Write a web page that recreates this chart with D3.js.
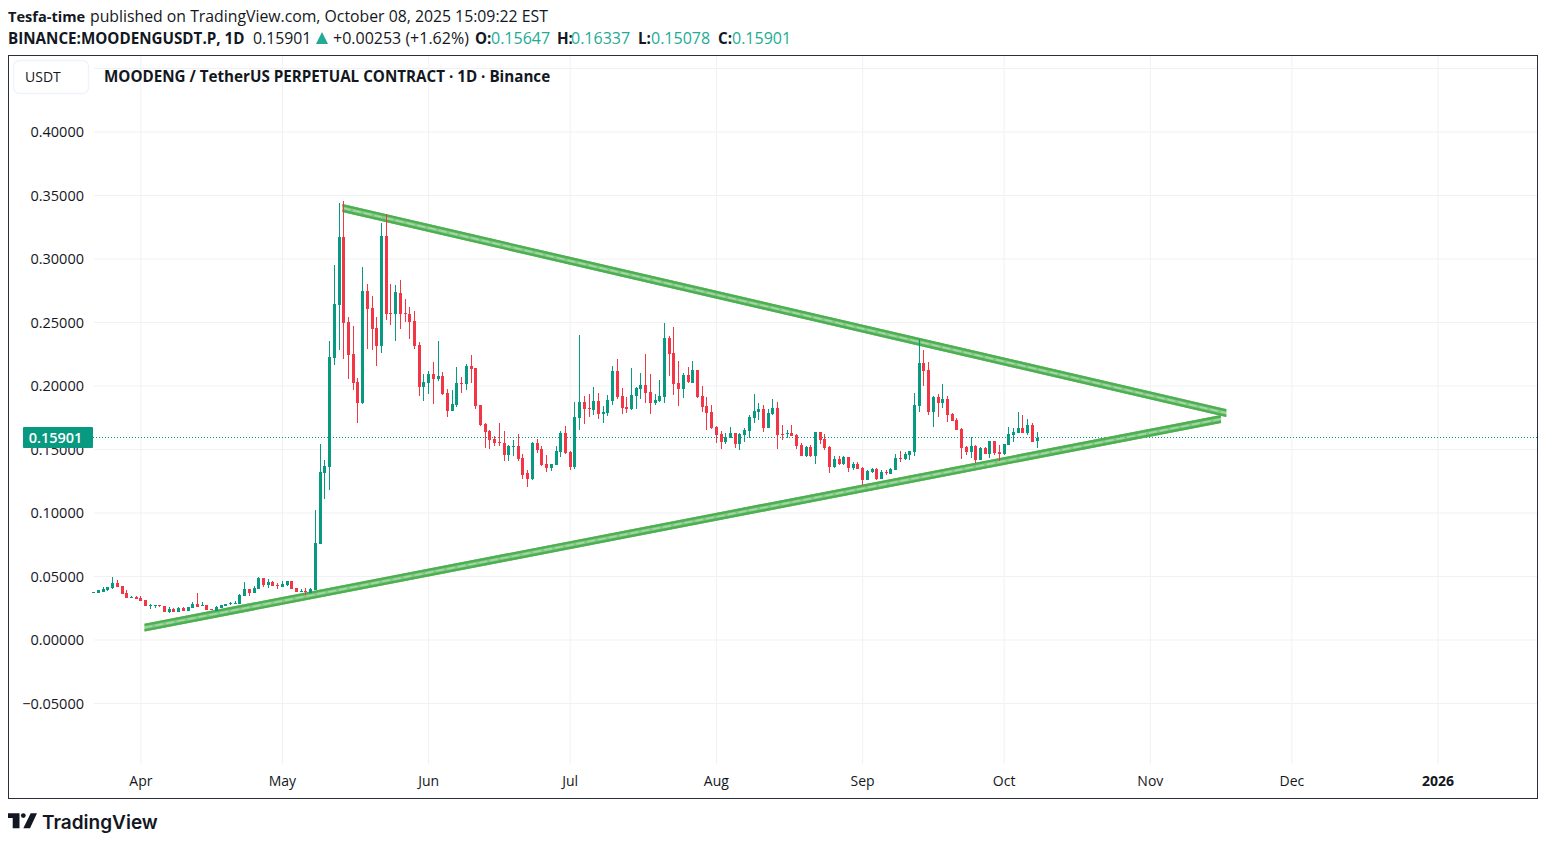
<!DOCTYPE html>
<html>
<head>
<meta charset="utf-8">
<title>MOODENGUSDT.P</title>
<script src="https://cdn.jsdelivr.net/npm/d3@7"></script>
<style>
  html, body { margin: 0; padding: 0; background: #fff; }
  svg { display: block; }
  text { font-family: "Open Sans", "Noto Sans", sans-serif; fill: #131722; }
</style>
</head>
<body>
<script>
'use strict';

var firstDay = "2025-03-22";

var opens = [0.0366,0.0366,0.0377,0.0387,0.0405,0.0445,0.0421,0.0366,0.0327,0.0335,
  0.0327,0.0311,0.0264,0.0264,0.0272,0.0264,0.0217,0.0240,0.0217,0.0248,
  0.0224,0.0248,0.0280,0.0264,0.0272,0.0238,0.0224,0.0248,0.0264,0.0280,
  0.0280,0.0280,0.0343,0.0398,0.0366,0.0398,0.0484,0.0429,0.0453,0.0429,
  0.0413,0.0429,0.0461,0.0405,0.0374,0.0382,0.0366,0.0390,0.0752,0.1311,
  0.1358,0.2216,0.2634,0.3170,0.2500,0.2248,0.2028,0.1862,0.2744,0.2610,
  0.2453,0.2311,0.3177,0.2571,0.2563,0.2728,0.2571,0.2563,0.2508,0.2319,
  0.1988,0.2020,0.2090,0.2051,0.2075,0.1941,0.1799,0.1846,0.2020,0.2012,
  0.2154,0.2138,0.1846,0.1697,0.1642,0.1579,0.1555,0.1547,0.1453,0.1516,
  0.1524,0.1429,0.1311,0.1264,0.1547,0.1500,0.1382,0.1350,0.1374,0.1476,
  0.1626,0.1476,0.1358,0.1744,0.1870,0.1823,0.1807,0.1878,0.1776,0.1783,
  0.1878,0.2114,0.1917,0.1831,0.1815,0.1917,0.1972,0.2004,0.1948,0.1862,
  0.1878,0.1909,0.2374,0.2256,0.2020,0.1972,0.2083,0.2020,0.2122,0.1917,
  0.1839,0.1791,0.1673,0.1618,0.1555,0.1587,0.1626,0.1539,0.1610,0.1642,
  0.1744,0.1791,0.1815,0.1665,0.1776,0.1823,0.1618,0.1618,0.1626,0.1610,
  0.1532,0.1445,0.1516,0.1445,0.1634,0.1579,0.1516,0.1358,0.1421,0.1382,
  0.1437,0.1350,0.1382,0.1350,0.1256,0.1319,0.1342,0.1264,0.1319,0.1303,
  0.1335,0.1429,0.1421,0.1453,0.1476,0.1839,0.2177,0.2122,0.1791,0.1909,
  0.1862,0.1894,0.1776,0.1728,0.1657,0.1516,0.1476,0.1524,0.1413,0.1508,
  0.1461,0.1563,0.1476,0.1461,0.1532,0.1610,0.1626,0.1665,0.1626,0.1689,
  0.15647];

var highs = [0.0377,0.0390,0.0413,0.0413,0.0492,0.0469,0.0421,0.0390,0.0343,0.0343,
  0.0343,0.0311,0.0280,0.0272,0.0272,0.0264,0.0256,0.0248,0.0256,0.0256,
  0.0253,0.0295,0.0366,0.0295,0.0272,0.0238,0.0264,0.0272,0.0280,0.0295,
  0.0303,0.0358,0.0453,0.0398,0.0421,0.0492,0.0484,0.0476,0.0461,0.0445,
  0.0461,0.0461,0.0461,0.0405,0.0398,0.0405,0.0405,0.1020,0.1539,0.1413,
  0.2350,0.2949,0.3437,0.3453,0.2539,0.2469,0.2059,0.2933,0.2799,0.2705,
  0.2539,0.3280,0.3350,0.2799,0.2791,0.2831,0.2681,0.2618,0.2587,0.2342,
  0.2090,0.2114,0.2185,0.2350,0.2106,0.1972,0.1965,0.2146,0.2067,0.2169,
  0.2240,0.2138,0.1846,0.1705,0.1650,0.1602,0.1705,0.1642,0.1532,0.1571,
  0.1618,0.1461,0.1335,0.1555,0.1579,0.1524,0.1453,0.1382,0.1524,0.1642,
  0.1681,0.1484,0.1870,0.2398,0.1917,0.1933,0.1988,0.1941,0.1839,0.1925,
  0.2154,0.2209,0.1980,0.1909,0.2138,0.1988,0.2098,0.2248,0.2090,0.1933,
  0.2043,0.2492,0.2390,0.2461,0.2193,0.2098,0.2146,0.2193,0.2122,0.1996,
  0.1909,0.1846,0.1681,0.1642,0.1626,0.1673,0.1626,0.1626,0.1665,0.1768,
  0.1933,0.1862,0.1846,0.1815,0.1894,0.1870,0.1689,0.1650,0.1689,0.1618,
  0.1547,0.1524,0.1532,0.1634,0.1634,0.1618,0.1524,0.1445,0.1445,0.1445,
  0.1437,0.1398,0.1398,0.1358,0.1335,0.1350,0.1350,0.1335,0.1335,0.1350,
  0.1461,0.1484,0.1476,0.1484,0.1941,0.2366,0.2280,0.2185,0.1917,0.1933,
  0.2012,0.1917,0.1783,0.1744,0.1665,0.1524,0.1594,0.1532,0.1516,0.1516,
  0.1563,0.1563,0.1532,0.1539,0.1673,0.1665,0.1791,0.1768,0.1736,0.1705,
  0.16337];

var lows = [0.0366,0.0366,0.0377,0.0382,0.0398,0.0413,0.0358,0.0327,0.0327,0.0319,
  0.0303,0.0264,0.0240,0.0248,0.0256,0.0217,0.0209,0.0217,0.0217,0.0224,
  0.0224,0.0248,0.0256,0.0264,0.0232,0.0232,0.0224,0.0248,0.0264,0.0272,
  0.0280,0.0280,0.0343,0.0343,0.0366,0.0398,0.0413,0.0405,0.0421,0.0398,
  0.0413,0.0421,0.0398,0.0374,0.0374,0.0350,0.0366,0.0390,0.0752,0.1106,
  0.1177,0.2161,0.2279,0.2209,0.2051,0.1965,0.1705,0.1854,0.2288,0.2279,
  0.2153,0.2256,0.2516,0.2476,0.2350,0.2445,0.2500,0.2366,0.2288,0.1917,
  0.1878,0.1933,0.1854,0.2035,0.1925,0.1752,0.1799,0.1831,0.1941,0.1965,
  0.2020,0.1815,0.1681,0.1508,0.1500,0.1524,0.1524,0.1405,0.1405,0.1445,
  0.1405,0.1264,0.1201,0.1256,0.1469,0.1366,0.1319,0.1327,0.1374,0.1437,
  0.1461,0.1335,0.1342,0.1650,0.1697,0.1752,0.1768,0.1736,0.1705,0.1760,
  0.1846,0.1894,0.1776,0.1783,0.1807,0.1815,0.1894,0.1862,0.1776,0.1846,
  0.1870,0.1862,0.2075,0.1925,0.1839,0.1901,0.2020,0.2020,0.1901,0.1791,
  0.1650,0.1657,0.1547,0.1500,0.1539,0.1587,0.1508,0.1492,0.1555,0.1587,
  0.1705,0.1728,0.1634,0.1665,0.1768,0.1500,0.1571,0.1587,0.1602,0.1500,
  0.1445,0.1437,0.1437,0.1382,0.1539,0.1492,0.1311,0.1350,0.1374,0.1374,
  0.1319,0.1335,0.1342,0.1216,0.1256,0.1311,0.1256,0.1264,0.1295,0.1303,
  0.1335,0.1398,0.1413,0.1413,0.1445,0.1791,0.1996,0.1768,0.1673,0.1752,
  0.1823,0.1713,0.1720,0.1650,0.1421,0.1453,0.1429,0.1390,0.1413,0.1461,
  0.1429,0.1453,0.1405,0.1453,0.1532,0.1555,0.1626,0.1626,0.1610,0.1555,
  0.15078];

var closes = [0.0377,0.0390,0.0400,0.0413,0.0445,0.0413,0.0358,0.0327,0.0335,0.0319,
  0.0303,0.0264,0.0272,0.0272,0.0264,0.0217,0.0240,0.0217,0.0248,0.0224,
  0.0253,0.0280,0.0256,0.0272,0.0232,0.0232,0.0256,0.0272,0.0280,0.0287,
  0.0287,0.0350,0.0398,0.0366,0.0405,0.0484,0.0429,0.0453,0.0421,0.0421,
  0.0437,0.0461,0.0398,0.0374,0.0382,0.0374,0.0398,0.0760,0.1319,0.1366,
  0.2224,0.2642,0.3170,0.2492,0.2240,0.2020,0.1862,0.2744,0.2602,0.2445,
  0.2311,0.3177,0.2563,0.2563,0.2736,0.2563,0.2563,0.2500,0.2311,0.1988,
  0.2028,0.2090,0.2051,0.2075,0.1933,0.1799,0.1854,0.2020,0.2012,0.2154,
  0.2130,0.1839,0.1689,0.1634,0.1571,0.1547,0.1547,0.1453,0.1524,0.1524,
  0.1421,0.1295,0.1264,0.1547,0.1492,0.1374,0.1350,0.1382,0.1484,0.1626,
  0.1469,0.1358,0.1752,0.1870,0.1815,0.1815,0.1878,0.1776,0.1791,0.1886,
  0.2114,0.1909,0.1823,0.1815,0.1925,0.1980,0.2004,0.1941,0.1862,0.1886,
  0.1917,0.2374,0.2248,0.2012,0.1972,0.2083,0.2028,0.2122,0.1909,0.1831,
  0.1783,0.1665,0.1610,0.1555,0.1594,0.1626,0.1539,0.1618,0.1650,0.1752,
  0.1799,0.1815,0.1665,0.1783,0.1823,0.1610,0.1610,0.1626,0.1602,0.1524,
  0.1445,0.1516,0.1445,0.1634,0.1571,0.1508,0.1358,0.1421,0.1382,0.1437,
  0.1350,0.1382,0.1342,0.1256,0.1327,0.1342,0.1264,0.1319,0.1311,0.1342,
  0.1429,0.1421,0.1461,0.1484,0.1846,0.2177,0.2114,0.1791,0.1909,0.1862,
  0.1894,0.1768,0.1720,0.1650,0.1508,0.1476,0.1524,0.1413,0.1508,0.1461,
  0.1563,0.1469,0.1461,0.1539,0.1618,0.1634,0.1665,0.1626,0.1689,0.1555,
  0.15901];

var priceTicks = [-0.05, 0, 0.05, 0.10, 0.15, 0.20, 0.25, 0.30, 0.35, 0.40];
var gridOnlyTicks = [0.45];
var monthTicks = ["2025-04-01","2025-05-01","2025-06-01","2025-07-01","2025-08-01","2025-09-01","2025-10-01","2025-11-01","2025-12-01","2026-01-01"];
var monthLabels = ["Apr","May","Jun","Jul","Aug","Sep","Oct","Nov","Dec","2026"];

// the two drawn trend bands, centre line and half height in price
var upperBandDates = ["2025-05-13T19:30Z", "2025-11-17T05:00Z"];
var upperBandPrices = [0.3398, 0.1783];
var lowerBandDates = ["2025-04-01T21:00Z", "2025-11-16T02:00Z"];
var lowerBandPrices = [0.0094, 0.1736];
var bandHalf = 0.0031;

var lastPrice = 0.15901;

var width = 1546, height = 845;
var upColor = "#089981", downColor = "#f23645", gridColor = "#f1f1f3";
var headerGreen = "#22ab94";

var svg = d3.select("body").append("svg")
  .attr("width", width)
  .attr("height", height);

var x = d3.scaleUtc()
  .domain([new Date("2025-04-01"), new Date("2026-01-01")])
  .range([140.4, 1437.6]);

var y = d3.scaleLinear()
  .domain([-0.05, 0.40])
  .range([703, 131.5]);

// gridlines
svg.append("g")
  .attr("transform", "translate(0,56)")
  .call(d3.axisBottom(x)
    .tickValues(monthTicks.map(function(d) { return new Date(d); }))
    .tickSize(708).tickFormat(""))
  .call(function(g) { g.select(".domain").remove(); })
  .selectAll("line").attr("stroke", gridColor);

svg.append("g")
  .attr("transform", "translate(1537,0)")
  .call(d3.axisLeft(y)
    .tickValues(priceTicks.concat(gridOnlyTicks))
    .tickSize(1443).tickFormat(""))
  .call(function(g) { g.select(".domain").remove(); })
  .selectAll("line").attr("stroke", gridColor);

// last price dotted line
svg.append("line")
  .attr("x1", 93).attr("x2", 1537)
  .attr("y1", Math.floor(y(lastPrice)) + 0.5).attr("y2", Math.floor(y(lastPrice)) + 0.5)
  .attr("stroke", upColor)
  .attr("stroke-dasharray", "1 2")
  .attr("shape-rendering", "crispEdges");

// trend bands go under the candles, the wicks show through
function drawBand(dates, prices) {
  var pts = dates.map(function(d, i) { return { date: new Date(d), price: prices[i] }; });
  var band = svg.append("g").attr("class", "band");

  band.append("path")
    .attr("d", d3.area()
      .x(function(d) { return x(d.date); })
      .y0(function(d) { return y(d.price - bandHalf); })
      .y1(function(d) { return y(d.price + bandHalf); })(pts))
    .attr("fill", "#4caf50")
    .attr("fill-opacity", 0.7);

  [bandHalf * 0.7, -bandHalf * 0.7].forEach(function(off) {
    band.append("path")
      .attr("d", d3.line()
        .x(function(d) { return x(d.date); })
        .y(function(d) { return y(d.price + off); })(pts))
      .attr("fill", "none")
      .attr("stroke", "#4caf50")
      .attr("stroke-width", 2.4);
  });

  band.append("path")
    .attr("d", d3.line()
      .x(function(d) { return x(d.date); })
      .y(function(d) { return y(d.price); })(pts))
    .attr("fill", "none")
    .attr("stroke", "#a5d6a7")
    .attr("stroke-width", 1.6)
    .attr("stroke-dasharray", "8 3");
}

drawBand(upperBandDates, upperBandPrices);
drawBand(lowerBandDates, lowerBandPrices);

// candles
var candles = closes.map(function(c, i) {
  return {
    date: d3.utcDay.offset(new Date(firstDay), i),
    open: opens[i], high: highs[i], low: lows[i], close: c
  };
});

var candle = svg.append("g").attr("id", "candles")
  .selectAll("g")
  .data(candles)
  .enter()
  .append("g")
  .attr("fill", function(d) { return d.close >= d.open ? upColor : downColor; });

candle.append("rect")
  .attr("x", function(d) { return Math.round(x(d.date)); })
  .attr("width", 1)
  .attr("y", function(d) { return Math.round(y(d.high)); })
  .attr("height", function(d) { return Math.max(1, Math.round(y(d.low)) - Math.round(y(d.high))); });

candle.append("rect")
  .attr("x", function(d) { return Math.round(x(d.date)) - 1; })
  .attr("width", 3)
  .attr("y", function(d) { return Math.round(y(Math.max(d.open, d.close))); })
  .attr("height", function(d) {
    return Math.max(1, Math.round(y(Math.min(d.open, d.close))) - Math.round(y(Math.max(d.open, d.close))));
  });

// axes labels
var priceAxis = svg.append("g")
  .attr("transform", "translate(84,0.8)")
  .call(d3.axisLeft(y)
    .tickValues(priceTicks)
    .tickSize(0)
    .tickPadding(0)
    .tickFormat(function(d) { return (d < 0 ? "\u2212" : "") + Math.abs(d).toFixed(5); }));
priceAxis.select(".domain").remove();
priceAxis.selectAll("text")
  .style("font-family", '"Open Sans", sans-serif')
  .style("font-size", "14.5px")
  .attr("fill", "#131722");

var timeAxis = svg.append("g")
  .attr("transform", "translate(0,776)")
  .call(d3.axisBottom(x)
    .tickValues(monthTicks.map(function(d) { return new Date(d); }))
    .tickSize(0)
    .tickPadding(0)
    .tickFormat(function(d, i) { return monthLabels[i]; }));
timeAxis.select(".domain").remove();
timeAxis.selectAll("text")
  .style("font-family", '"Open Sans", sans-serif')
  .style("font-size", "14px")
  .style("font-weight", function(d, i) { return monthLabels[i] === "2026" ? 700 : 400; })
  .attr("fill", "#131722");

// last price label
svg.append("rect")
  .attr("x", 23).attr("y", 427)
  .attr("width", 70).attr("height", 21)
  .attr("rx", 1)
  .attr("fill", upColor);
svg.append("text")
  .attr("x", 55.5).attr("y", 442.5)
  .attr("text-anchor", "middle")
  .style("fill", "#fff")
  .style("font-size", "14.5px")
  .style("font-weight", 600)
  .text(lastPrice.toFixed(5));

// chart frame
svg.append("rect")
  .attr("x", 8.5).attr("y", 55.5)
  .attr("width", 1529).attr("height", 743)
  .attr("fill", "none")
  .attr("stroke", "#2a2e39");

// currency button and title
svg.append("rect")
  .attr("x", 13.5).attr("y", 60.5)
  .attr("width", 75).attr("height", 33)
  .attr("rx", 6)
  .attr("fill", "#fff")
  .attr("stroke", "#f0f3fa")
  .attr("stroke-width", 1.5);
svg.append("text")
  .attr("x", 25).attr("y", 82)
  .style("font-size", "14px")
  .text("USDT");
svg.append("text")
  .attr("x", 104).attr("y", 82)
  .style("font-size", "15.2px")
  .style("font-weight", 700)
  .text("MOODENG / TetherUS PERPETUAL CONTRACT \u00b7 1D \u00b7 Binance");

// header, each piece placed on its own
function headerText(px, py, str, bold, color, size) {
  svg.append("text")
    .attr("x", px).attr("y", py)
    .style("font-size", (size || (bold ? 15.2 : 15.8)) + "px")
    .style("font-weight", bold ? 700 : 400)
    .style("fill", color || "#131722")
    .text(str);
}
headerText(8, 21.5, "Tesfa-time", true, null, 14.6);
headerText(90, 21.5, "published on TradingView.com, October 08, 2025 15:09:22 EST", false);
headerText(8, 43.5, "BINANCE:MOODENGUSDT.P, 1D", true);
headerText(253, 43.5, "0.15901", false);
svg.append("path").attr("d", "M322 32 L328 44 L316 44 Z").attr("fill", headerGreen);
headerText(333, 43.5, "+0.00253 (+1.62%)", false, null, 16);
headerText(475, 43.5, "O:", true);
headerText(491, 43.5, "0.15647", false, headerGreen, 16);
headerText(557, 43.5, "H:", true);
headerText(571, 43.5, "0.16337", false, headerGreen, 16);
headerText(638, 43.5, "L:", true);
headerText(651, 43.5, "0.15078", false, headerGreen, 16);
headerText(718, 43.5, "C:", true);
headerText(732, 43.5, "0.15901", false, headerGreen, 16);

// logo
var logo = svg.append("g").attr("fill", "#131722");
logo.append("path").attr("d", "M8 813.3 H19.5 V828.3 H12.7 V818 H8 Z");
logo.append("circle").attr("cx", 23.3).attr("cy", 815.6).attr("r", 2.4);
logo.append("path").attr("d", "M30.7 813.3 H37 L30 828.3 H23.3 Z");
svg.append("text")
  .attr("x", 42).attr("y", 828.5)
  .style("font-family", "Inter, sans-serif")
  .style("font-size", "19px")
  .style("font-weight", 600)
  .text("TradingView");
</script>
</body>
</html>
